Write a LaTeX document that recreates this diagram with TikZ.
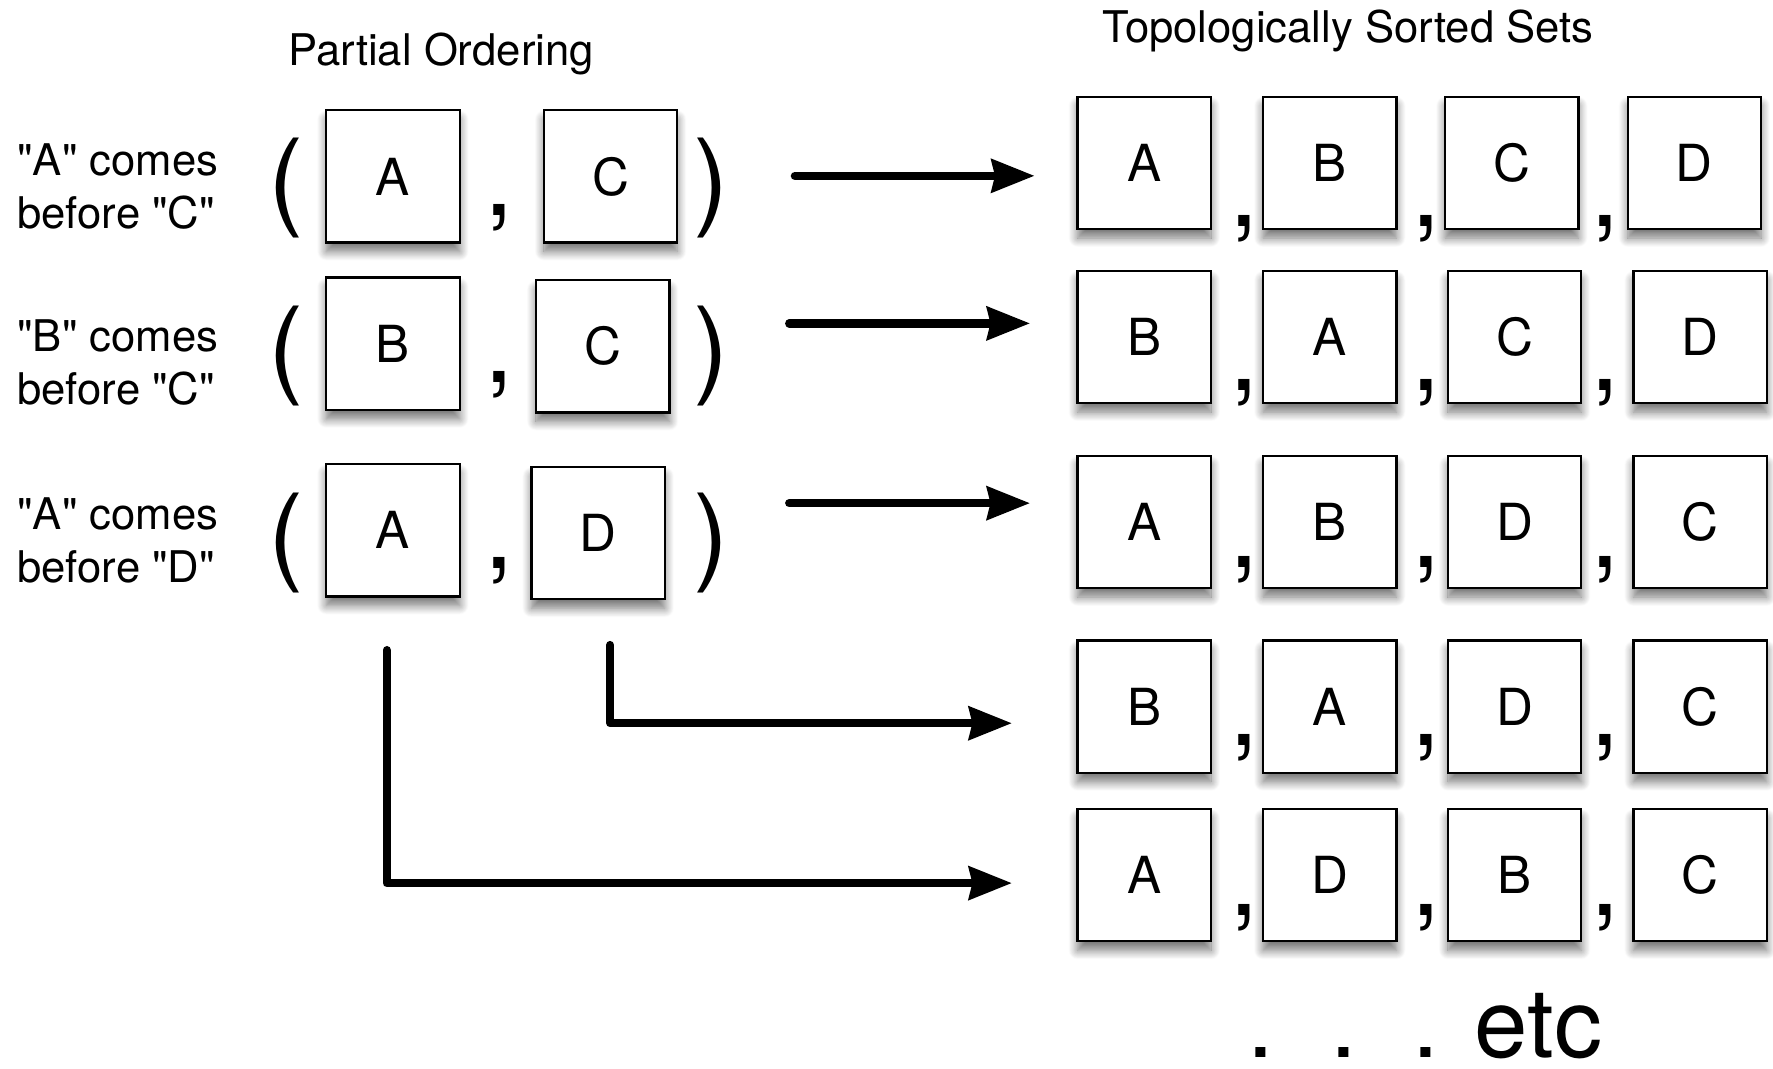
\documentclass[tikz,border=0pt]{standalone}
\usepackage{fontspec}
\setmainfont[Ligatures=TeXOff]{TeX Gyre Heros}
\usetikzlibrary{arrows.meta,shadows.blur}

\begin{document}
\begin{tikzpicture}[x=0.5pt,y=-0.5pt,
  card/.style={draw, line width=1pt, fill=white, minimum width=59pt,
    minimum height=58.5pt, inner sep=0pt, font=\fontsize{22.6}{27}\selectfont,
    blur shadow={shadow xshift=0pt, shadow yshift=-4pt, shadow blur radius=4pt,
      shadow blur steps=12, shadow opacity=55}},
  rule/.style={font=\fontsize{19.3}{23.5}\selectfont, align=left, inner sep=0pt, anchor=base west},
  heading/.style={font=\fontsize{19.3}{23}\selectfont, inner sep=0pt, anchor=base},
  glyph/.style={font=\fontsize{47}{50}\selectfont, inner sep=0pt},
  flow/.style={line width=3.7pt, line cap=round, line join=round,
    -{Stealth[length=19pt, width=14.5pt, inset=1.5pt]}}
]
\useasboundingbox (0,0) rectangle (1568,945);

% headings
\node[heading] (hpo) at (390,58) {Partial Ordering};
\node[heading] (hts) at (1192,38) {Topologically Sorted Sets};

% the three ordering rules (anchored on the baseline of their last line)
\node[rule] (t1) at (15,202) {"A" comes\\before "C"};
\node[rule] (t2) at (15,358) {"B" comes\\before "C"};
\node[rule] (t3) at (15,515) {"A" comes\\before "D"};

% pairs of the partial ordering
\node[glyph] (p1l) at (253.5,166.5) {(};
\node[card]  (l11) at (347.5,156) {A};
\node[glyph] (k1)  at (441.5,192.5) {,};
\node[card]  (l12) at (540,156) {C};
\node[glyph] (p1r) at (629,166.5) {)};

\node[glyph] (p2l) at (253.5,315) {(};
\node[card]  (l21) at (347.5,304) {B};
\node[glyph] (k2)  at (441.5,340) {,};
\node[card]  (l22) at (533,306.3) {C};
\node[glyph] (p2r) at (629,315) {)};

\node[glyph] (p3l) at (253.5,480) {(};
\node[card]  (l31) at (347.5,469) {A};
\node[glyph] (k3)  at (441.5,505) {,};
\node[card]  (l32) at (529,471.5) {D};
\node[glyph] (p3r) at (629,480) {)};

% sorted sequences
\node[card] (r11) at (1012,144) {A};
\node[card] (r12) at (1176,144) {B};
\node[card] (r13) at (1337,144) {C};
\node[card] (r14) at (1498.5,144) {D};

\node[card] (r21) at (1012,298) {B};
\node[card] (r22) at (1176,298) {A};
\node[card] (r23) at (1339.5,298) {C};
\node[card] (r24) at (1503.5,298) {D};

\node[card] (r31) at (1012,461.5) {A};
\node[card] (r32) at (1176,461.5) {B};
\node[card] (r33) at (1339.5,461.5) {D};
\node[card] (r34) at (1503.5,461.5) {C};

\node[card] (r41) at (1012,625) {B};
\node[card] (r42) at (1176,625) {A};
\node[card] (r43) at (1339.5,625) {D};
\node[card] (r44) at (1503.5,625) {C};

\node[card] (r51) at (1012,774) {A};
\node[card] (r52) at (1176,774) {D};
\node[card] (r53) at (1339.5,774) {B};
\node[card] (r54) at (1503.5,774) {C};

% commas between the sorted cards
\foreach \r/\y in {1/202,2/347.5,3/504,4/661,5/812}{
  \node[glyph] (q\r a) at (1100,\y) {,};
  \node[glyph] (q\r b) at (1261,\y) {,};
  \node[glyph] (q\r c) at (1420,\y) {,};
}

% connectors
\coordinate (s1) at (703,155.5);  \coordinate (e1) at (915,155.5);
\coordinate (s2) at (698,286);    \coordinate (e2) at (911,286);
\coordinate (s3) at (698,445);    \coordinate (e3) at (911,445);
\coordinate (s4) at (539.6,570.5); \coordinate (e4) at (895,639.6);
\coordinate (s5) at (342,575);    \coordinate (e5) at (895,781);
\draw[flow] (s1) -- (e1);
\draw[flow] (s2) -- (e2);
\draw[flow] (s3) -- (e3);
\draw[flow] (s4) |- (e4);
\draw[flow] (s5) |- (e5);

% trailing ellipsis
\node[font=\fontsize{42.5}{46}\selectfont, inner sep=0pt, anchor=base west] (etc)
  at (1102.8,935) {.\hspace{24.7pt}.\hspace{24.7pt}. etc};
\end{tikzpicture}
\end{document}
